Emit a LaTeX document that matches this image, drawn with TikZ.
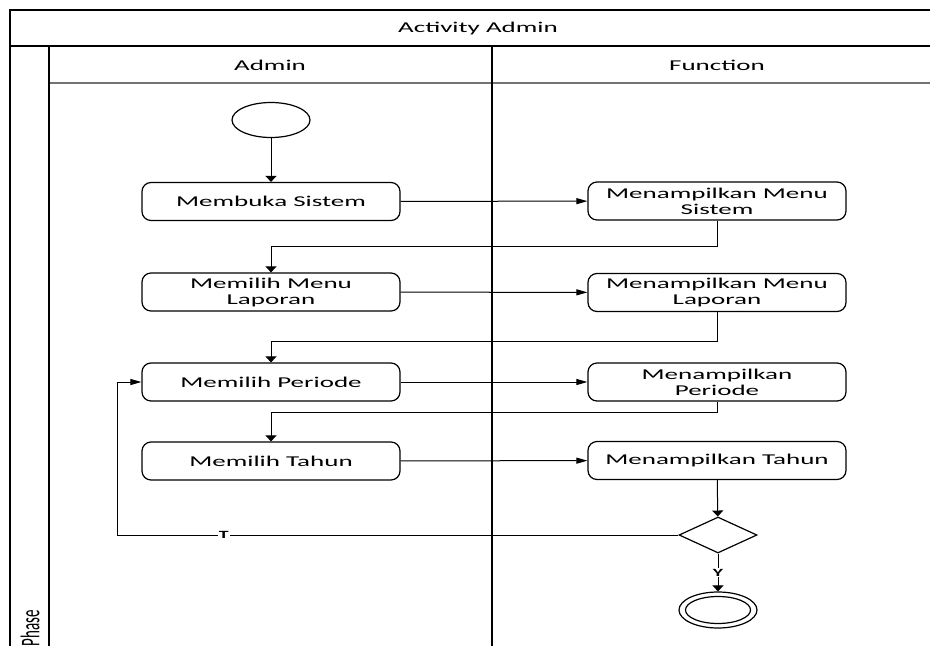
\documentclass[tikz,border=0pt]{standalone}
\usepackage{graphicx}
\usepackage{fontspec}
\setmainfont{Carlito}[FakeStretch=1.8]
\newfontfamily\phasefont{Carlito}
\usetikzlibrary{arrows.meta,shapes.geometric}

\begin{document}
\begin{tikzpicture}[%
    x=1pt,y=-1pt,
    font=\fontsize{15}{16}\selectfont,
    block/.style={
      rectangle,
      draw=black,
      line width=1.2pt,
      minimum width=258pt,
      minimum height=38pt,
      inner sep=0pt,
      align=center,
      rounded corners=9pt
    },
    start/.style={
      draw=black,
      line width=1.2pt,
      ellipse,
      minimum width=78pt,
      minimum height=35pt,
      inner sep=0pt
    },
    decision/.style={
      draw=black,
      line width=1.2pt,
      diamond,
      aspect=2.17,
      minimum width=78pt,
      minimum height=36pt,
      inner sep=0pt
    },
    frame/.style={
      draw=black,
      line width=1.2pt
    },
    lane/.style={
      draw=black,
      line width=2pt
    },
    linedown/.style={
      draw,line width=1pt,
      -{Triangle[length=6pt,width=11pt]}
    },
    lineright/.style={
      draw,line width=1pt,
      -{Triangle[length=11pt,width=6pt]}
    },
    guard/.style={
      fill=white,
      inner sep=1pt,
      font=\fontsize{11}{12}\selectfont\bfseries
    }
  ]
    \useasboundingbox (0,0) rectangle (930,646);
    \draw[frame] (930,10) -- (10,10) -- (10,646);
    \draw[frame] (10,46) -- (930,46);
    \draw[frame,draw=black!55] (49,83) -- (930,83);
    \draw[lane] (49,46) -- (49,646);
    \draw[lane] (492,46) -- (492,646);
    \draw (478,28) node (T) {Activity Admin};
    \draw (270,65) node (H1) {Admin};
    \draw (717,65) node (H2) {Function};
    \draw (30,628) node[rotate=90] (P) {\phasefont\scalebox{1}[1.8]{Phase}};

    \draw (271,120) node[start] (S) {};
    \draw (271,201.5) node[block] (A1) {Membuka Sistem};
    \draw (717,201) node[block] (F1) {Menampilkan Menu\\Sistem};
    \draw (271,292) node[block] (A2) {Memilih Menu\\Laporan};
    \draw (717,292.5) node[block] (F2) {Menampilkan Menu\\Laporan};
    \draw (271,382) node[block] (A3) {Memilih Periode};
    \draw (717,382) node[block] (F3) {Menampilkan\\Periode};
    \draw (271,461) node[block] (A4) {Memilih Tahun};
    \draw (717,460.5) node[block] (F4) {Menampilkan Tahun};
    \draw (718,535) node[decision] (D) {};
    \draw (718,610) node[start,minimum width=78pt,minimum height=36pt] (E) {};
    \draw (718,610) node[start,minimum width=65pt,minimum height=27pt] (E1) {};
    \coordinate (L) at (117,382);

    \draw[linedown] (S) -- (A1);
    \draw[lineright] (A1) -- (F1);
    \draw[linedown] (F1.south) -- ++(0,26) -| (A2.north);
    \draw[lineright] (A2) -- (F2);
    \draw[linedown] (F2.south) -- ++(0,29) -| (A3.north);
    \draw[lineright] (A3) -- (F3);
    \draw[linedown] (F3.south) -- ++(0,11) -| (A4.north);
    \draw[lineright] (A4) -- (F4);
    \draw[linedown] (F4) -- (D);
    \draw[lineright] (D.west) -- node[pos=0.81,guard] {T} (L |- D.west) |- (A3.west);
    \draw[linedown] (D.south) -- node[guard] {Y} (E.north);
  \end{tikzpicture}
\end{document}
